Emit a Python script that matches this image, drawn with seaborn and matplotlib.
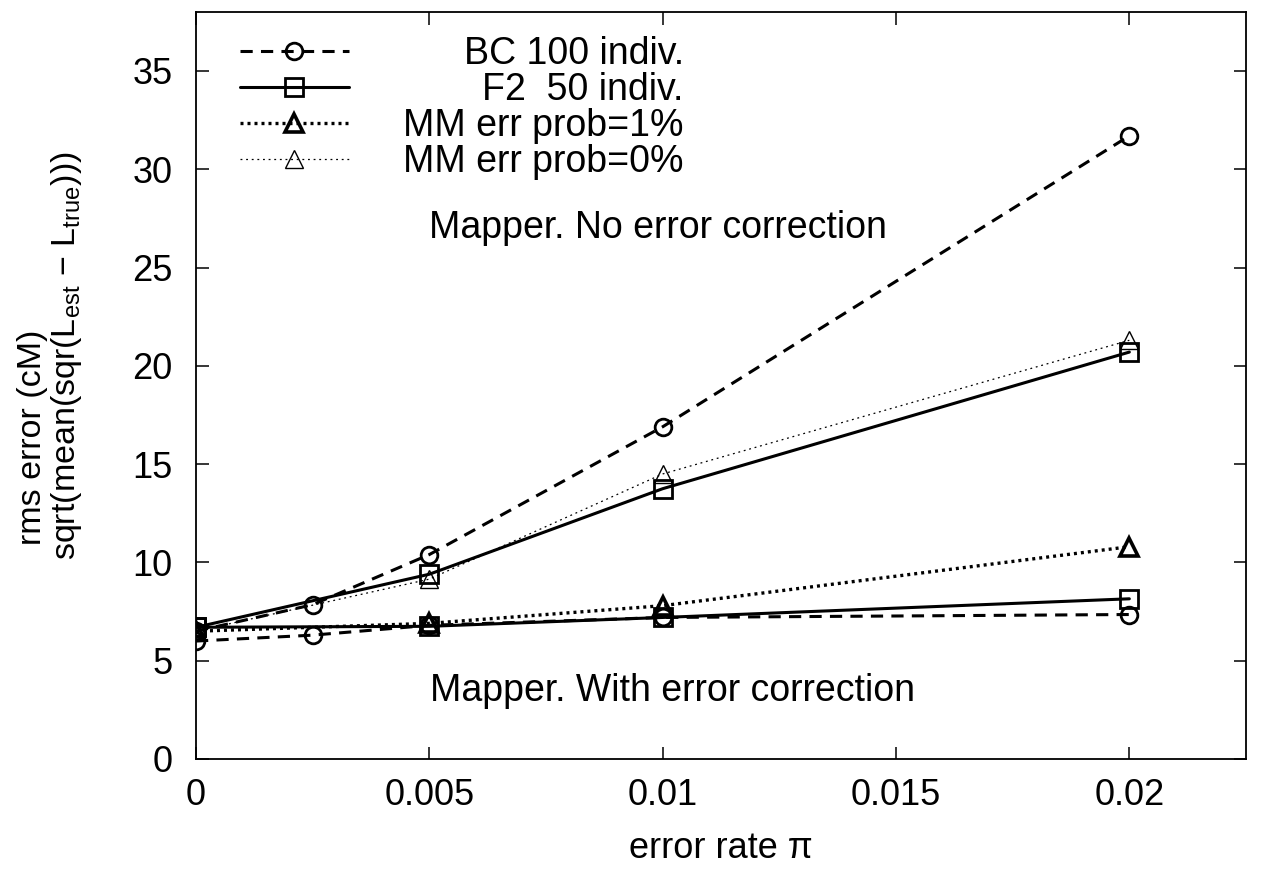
import matplotlib
matplotlib.use("Agg")
import matplotlib.pyplot as plt
import seaborn as sns

# error rates on the x axis
x_bc = [0, 0.0025, 0.005, 0.01, 0.02]
x_other = [0, 0.005, 0.01, 0.02]

# rms error (cM)
bc_nocorr = [6.5, 7.85, 10.4, 16.9, 31.7]
bc_corr = [6.0, 6.3, 6.8, 7.2, 7.35]
f2_nocorr = [6.7, 9.4, 13.75, 20.7]
f2_corr = [6.7, 6.75, 7.2, 8.15]
mm_err1 = [6.5, 6.9, 7.8, 10.8]
mm_err0 = [6.5, 9.15, 14.5, 21.3]

labels = ["BC 100 indiv.", "F2  50 indiv.", "MM err prob=1%", "MM err prob=0%"]
x_ticks = [0, 0.005, 0.01, 0.015, 0.02]
y_ticks = [0, 5, 10, 15, 20, 25, 30, 35]

sns.set_style("ticks")
plt.rcParams['font.family'] = ['Liberation Sans', 'DejaVu Sans']
plt.rcParams['mathtext.fontset'] = 'custom'
plt.rcParams['mathtext.rm'] = 'Liberation Sans'
plt.rcParams['text.color'] = 'black'
plt.rcParams['axes.labelcolor'] = 'black'
FS = 26
FS_TXT = 27

fig = plt.figure(figsize=(12.61, 8.69), dpi=100)
ax = fig.add_axes([196 / 1261, 1 - 759 / 869, (1246 - 196) / 1261, (759 - 12) / 869])

# line styles for each series type
bc_style = dict(color='black', lw=2.2, linestyle=(0, (4, 2.7)), marker='o', ms=12,
                mfc='none', mec='black', mew=2.0)
f2_style = dict(color='black', lw=2.2, linestyle='-', marker='s', ms=13,
                mfc='none', mec='black', mew=2.0)
mm1_style = dict(color='black', lw=2.4, linestyle=(0, (0.9, 1.2)), marker='^', ms=13,
                 mfc='none', mec='black', mew=2.6)
mm0_style = dict(color='black', lw=0.9, linestyle=(0, (1.5, 3)), marker='^', ms=13,
                 mfc='none', mec='black', mew=1.0)

sns.lineplot(x=x_bc, y=bc_nocorr, ax=ax, label=labels[0], **bc_style)
sns.lineplot(x=x_other, y=f2_nocorr, ax=ax, label=labels[1], **f2_style)
sns.lineplot(x=x_other, y=mm_err1, ax=ax, label=labels[2], **mm1_style)
sns.lineplot(x=x_other, y=mm_err0, ax=ax, label=labels[3], **mm0_style)
sns.lineplot(x=x_bc, y=bc_corr, ax=ax, label='_nolegend_', **bc_style)
sns.lineplot(x=x_other, y=f2_corr, ax=ax, label='_nolegend_', **f2_style)

ax.set_xlim(0, 0.0225)
ax.set_ylim(0, 38)
ax.set_xticks(x_ticks)
ax.set_xticklabels(["0", "0.005", "0.01", "0.015", "0.02"])
ax.set_yticks(y_ticks)
ax.tick_params(direction='in', length=9, width=1.1, top=True, right=True,
               labelsize=FS, colors='black')
ax.tick_params(axis='x', pad=14)
ax.tick_params(axis='y', pad=17)
for s in ax.spines.values():
    s.set_visible(True)
    s.set_linewidth(1.3)
    s.set_color('black')

ax.set_xlabel("error rate \u03c0", fontsize=FS, labelpad=13)
ax.set_ylabel("")

# two line y label, bottom aligned like gnuplot
fig.text(32 / 1261, 1 - 545 / 869, "rms error (cM)", rotation=90, fontsize=24.5,
         rotation_mode='anchor', ha='left', va='center')
fig.text(67 / 1261, 1 - 560 / 869,
         "sqrt(mean(sqr(L$_\\mathregular{est}$ \u2212 L$_\\mathregular{true}$)))",
         rotation=90, fontsize=24.5, rotation_mode='anchor', ha='left', va='center')

ax.text(0.0099, 27.0, "Mapper. No error correction", fontsize=FS_TXT, ha='center', va='center')
ax.text(0.0102, 3.45, "Mapper. With error correction", fontsize=FS_TXT, ha='center', va='center')

leg = ax.legend(loc='upper left', bbox_to_anchor=(240 / 1261, 1 - 36 / 869),
                bbox_transform=fig.transFigure, frameon=False, fontsize=FS_TXT,
                handlelength=2.9, handletextpad=1.45, labelspacing=0.0,
                borderpad=0, borderaxespad=0, numpoints=1)

# right-align the legend texts like gnuplot does
fig.canvas.draw()
r = fig.canvas.get_renderer()
texts = leg.get_texts()
widths = [t.get_window_extent(r).width for t in texts]
wmax = max(widths)
for t, w in zip(texts, widths):
    t.set_x(wmax - w)

plt.savefig("out.png", dpi=100)
